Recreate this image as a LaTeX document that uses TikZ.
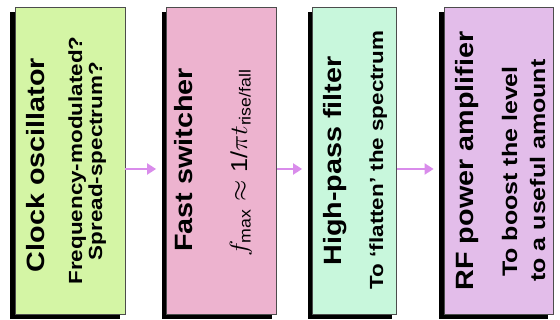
\documentclass[tikz,border=0pt]{standalone}
\usepackage{fontspec}
\setmainfont{Liberation Sans}
\usepackage{amsmath}
\usetikzlibrary{arrows.meta}
\usetikzlibrary{shadows}
\usetikzlibrary{positioning}

\definecolor{clockGreen}{HTML}{D4F5A5}
\definecolor{switchPink}{HTML}{EDB3CF}
\definecolor{filterMint}{HTML}{C8F7DC}
\definecolor{ampLilac}{HTML}{E3BDEA}
\definecolor{arrowViolet}{HTML}{D98CEB}

\begin{document}
\begin{tikzpicture}[x=1pt,y=-1pt,
		blockBox/.style={draw=black!70, line width=0.8pt, minimum height=307pt, inner sep=0pt,
			drop shadow={shadow xshift=-5pt,shadow yshift=-5pt,fill=black,opacity=1}},
		titleText/.style={rotate=90, anchor=base, font=\fontsize{25}{28}\selectfont\bfseries},
		noteText/.style={rotate=90, anchor=base, font=\fontsize{19}{21}\selectfont\bfseries},
		bigNote/.style={rotate=90, anchor=base, font=\fontsize{21}{24}\selectfont\bfseries},
		flowArrow/.style={-{Triangle[length=9pt,width=11pt]}, line width=2pt, draw=arrowViolet, shorten >=10pt}]
		\newcommand{\stretchText}[2]{\scalebox{#1}[1]{#2}}
		\newcommand{\arrowDrop}{8.5pt}
		
		\useasboundingbox (0,0) rectangle (560,320);
		
		% blocks
		\node[blockBox, fill=clockGreen, minimum width=110pt] (clock) at (70,160.5) {};
		\node[blockBox, fill=switchPink, minimum width=110pt] (switcher) at (221.5,160.5) {};
		\node[blockBox, fill=filterMint, minimum width=84pt] (filter) at (354.5,160.5) {};
		\node[blockBox, fill=ampLilac, minimum width=109pt] (amp) at (498.5,160.5) {};
		
		% clock oscillator
		\node[titleText] (clockTitle) at (45,165) {\stretchText{1.15}{Clock oscillator}};
		\node[noteText] (clockFm) at (82,160.5) {\stretchText{1.18}{Frequency-modulated?}};
		\node[noteText] (clockSs) at (102,161) {\stretchText{1.18}{Spread-spectrum?}};
		
		% fast switcher
		\node[titleText] (switchTitle) at (192,160) {\stretchText{1.15}{Fast switcher}};
		\node[rotate=90, anchor=base, font=\fontsize{23}{26}\selectfont] (switchFmax) at (247,163)
			{\stretchText{1.1}{$f_{\textnormal{max}}\approx\textnormal{1/}\pi t_{\textnormal{rise/fall}}$}};
		
		% high-pass filter
		\node[titleText] (filterTitle) at (341,161) {\stretchText{1.15}{High-pass filter}};
		\node[noteText] (filterNote) at (383,160) {\stretchText{1.18}{To `flatten' the spectrum}};
		
		% rf amplifier
		\node[titleText] (ampTitle) at (473,161) {\stretchText{1.15}{RF power amplifier}};
		\node[bigNote] (ampBoost) at (517,171.5) {\stretchText{1.19}{To boost the level}};
		\node[bigNote] (ampUseful) at (545,170.5) {\stretchText{1.19}{to a useful amount}};
		
		% arrows
		\draw[flowArrow] ([yshift=-\arrowDrop]clock.east) -- ([yshift=-\arrowDrop]switcher.west);
		\draw[flowArrow] ([yshift=-\arrowDrop]switcher.east) -- ([yshift=-\arrowDrop]filter.west);
		\draw[flowArrow] ([yshift=-\arrowDrop]filter.east) -- ([yshift=-\arrowDrop]amp.west);
\end{tikzpicture}
\end{document}
